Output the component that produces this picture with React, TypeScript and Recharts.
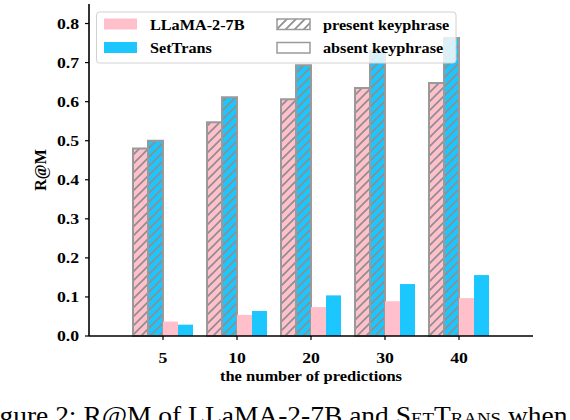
import React from 'react';
import { BarChart, Bar, XAxis, YAxis } from 'recharts';

const categories = ['5', '10', '20', '30', '40'];
const llamaPresent = [0.48, 0.547, 0.606, 0.635, 0.648];
const setTransPresent = [0.5, 0.611, 0.693, 0.73, 0.763];
const llamaAbsent = [0.037, 0.054, 0.074, 0.089, 0.097];
const setTransAbsent = [0.029, 0.064, 0.104, 0.133, 0.156];
const yTicks = [0, 0.1, 0.2, 0.3, 0.4, 0.5, 0.6, 0.7, 0.8];

const seriesNames = ['LLaMA-2-7B', 'SetTrans'];
const typeNames = ['present keyphrase', 'absent keyphrase'];
const xTitle = 'the number of predictions';
const yTitle = 'R@M';

const data = categories.map((c, i) => ({
  cat: c,
  lp: llamaPresent[i],
  sp: setTransPresent[i],
  la: llamaAbsent[i],
  sa: setTransAbsent[i],
}));

const PINK = '#FFC0CB';
const BLUE = '#1CC6FF';
const HATCH = '#8e8e8e';
const EDGE = '#9a9a9a';
const FONT = "'Liberation Serif', 'Times New Roman', serif";

const XTick = (props: any) => {
  const { x, y, payload } = props;
  return (
    <g transform={`translate(${x},${y})`}>
      <text
        x={0}
        y={0}
        dy="0.71em"
        textAnchor="middle"
        transform="scale(1.18,1)"
        fontFamily={FONT}
        fontWeight="bold"
        fontSize={15}
        fill="#000"
      >
        {payload.value}
      </text>
    </g>
  );
};

const YTick = (props: any) => {
  const { x, y, payload } = props;
  return (
    <g transform={`translate(${x},${y})`}>
      <text
        x={0}
        y={0}
        dy="0.34em"
        textAnchor="end"
        transform="scale(1.18,1)"
        fontFamily={FONT}
        fontWeight="bold"
        fontSize={15}
        fill="#000"
      >
        {Number(payload.value).toFixed(1)}
      </text>
    </g>
  );
};

const XLabel = (props: any) => {
  const vb = props.viewBox || { x: 89, y: 336, width: 444, height: 50 };
  const cx = vb.x + vb.width / 2;
  const by = vb.y + 45;
  return (
    <text
      transform={`translate(${cx},${by}) scale(1.1,1)`}
      x={0}
      y={0}
      textAnchor="middle"
      fontFamily={FONT}
      fontWeight="bold"
      fontSize={15}
      fill="#000"
    >
      {xTitle}
    </text>
  );
};

const YLabel = (props: any) => {
  const vb = props.viewBox || { x: 0, y: 4, width: 89, height: 332 };
  const cy = vb.y + vb.height / 2;
  const bx = vb.x + 46;
  return (
    <text
      transform={`translate(${bx},${cy}) rotate(-90)`}
      x={0}
      y={0}
      textAnchor="middle"
      fontFamily={FONT}
      fontWeight="bold"
      fontSize={16}
      fill="#000"
    >
      {yTitle}
    </text>
  );
};

const Patterns = () => (
  <svg width={0} height={0} style={{ position: 'absolute' }}>
    <defs>
      {[
        ['hatchPink', PINK],
        ['hatchBlue', BLUE],
        ['hatchWhite', '#ffffff'],
      ].map(([id, bg]) => (
        <pattern key={id} id={id} patternUnits="userSpaceOnUse" width={9} height={9}>
          <rect width={9} height={9} fill={bg} />
          <path d="M-2,2 L2,-2 M0,9 L9,0 M7,11 L11,7" stroke={HATCH} strokeWidth={1.7} />
        </pattern>
      ))}
    </defs>
  </svg>
);

const LegendText = ({ x, y, children }: any) => (
  <text
    transform={`translate(${x},${y}) scale(1.08,1)`}
    x={0}
    y={0}
    fontFamily={FONT}
    fontWeight="bold"
    fontSize={15}
    fill="#000"
  >
    {children}
  </text>
);

export default function App() {
  return (
    <div
      style={{
        position: 'absolute',
        left: 0,
        top: 0,
        width: 570,
        height: 420,
        overflow: 'hidden',
        background: '#fff',
      }}
    >
      <Patterns />
      <BarChart
        width={570}
        height={420}
        data={data}
        margin={{ top: 4, right: 37, left: 0, bottom: 34 }}
        barGap={0}
        barCategoryGap={7}
      >
        <XAxis
          dataKey="cat"
          padding={{ left: 37, right: 37 }}
          height={50}
          tickSize={4}
          tickMargin={12}
          tick={<XTick />}
          tickLine={{ stroke: '#000', strokeWidth: 1.2 }}
          axisLine={{ stroke: '#000', strokeWidth: 1.6 }}
          label={(p: any) => <XLabel {...p} />}
        />
        <XAxis
          xAxisId="top"
          orientation="top"
          dataKey="cat"
          height={0}
          tick={false}
          tickLine={false}
          axisLine={{ stroke: '#000', strokeWidth: 1.6 }}
        />
        <YAxis
          width={89}
          domain={[0, 0.85]}
          ticks={yTicks}
          tickSize={4}
          tickMargin={6}
          tick={<YTick />}
          tickLine={{ stroke: '#000', strokeWidth: 1.2 }}
          axisLine={{ stroke: '#000', strokeWidth: 1.6 }}
          label={(p: any) => <YLabel {...p} />}
        />
        <YAxis
          yAxisId="right"
          orientation="right"
          width={0}
          tick={false}
          tickLine={false}
          axisLine={{ stroke: '#000', strokeWidth: 1.6 }}
        />
        <Bar dataKey="lp" fill="url(#hatchPink)" stroke={EDGE} strokeWidth={2} isAnimationActive={false} />
        <Bar dataKey="sp" fill="url(#hatchBlue)" stroke={EDGE} strokeWidth={2} isAnimationActive={false} />
        <Bar dataKey="la" fill={PINK} isAnimationActive={false} />
        <Bar dataKey="sa" fill={BLUE} isAnimationActive={false} />
      </BarChart>
      <svg
        width={570}
        height={420}
        style={{ position: 'absolute', left: 0, top: 0, pointerEvents: 'none' }}
      >
        <rect x={96.5} y={12} width={359.5} height={51} rx={3} fill="#fff" fillOpacity={0.8} stroke="#d2d2d2" strokeWidth={1} />
        <rect x={104} y={18.5} width={33} height={11} fill={PINK} />
        <rect x={104} y={42} width={33} height={11} fill={BLUE} />
        <rect x={277} y={19} width={33} height={10.5} fill="url(#hatchWhite)" stroke={EDGE} strokeWidth={1.5} />
        <rect x={277} y={42.5} width={33} height={10.5} fill="#fff" stroke={EDGE} strokeWidth={1.5} />
        <LegendText x={150} y={30}>{seriesNames[0]}</LegendText>
        <LegendText x={150} y={52.5}>{seriesNames[1]}</LegendText>
        <LegendText x={323} y={30}>{typeNames[0]}</LegendText>
        <LegendText x={323} y={52.5}>{typeNames[1]}</LegendText>
        <text
          transform="translate(-23.5,424) scale(1.1,1)"
          x={0}
          y={0}
          fontFamily={FONT}
          fontSize={25}
          fill="#000"
        >
          Figure 2: R@M of LLaMA-2-7B and{' '}
          <tspan style={{ fontVariant: 'small-caps' }}>SetTrans</tspan> when
        </text>
      </svg>
    </div>
  );
}
